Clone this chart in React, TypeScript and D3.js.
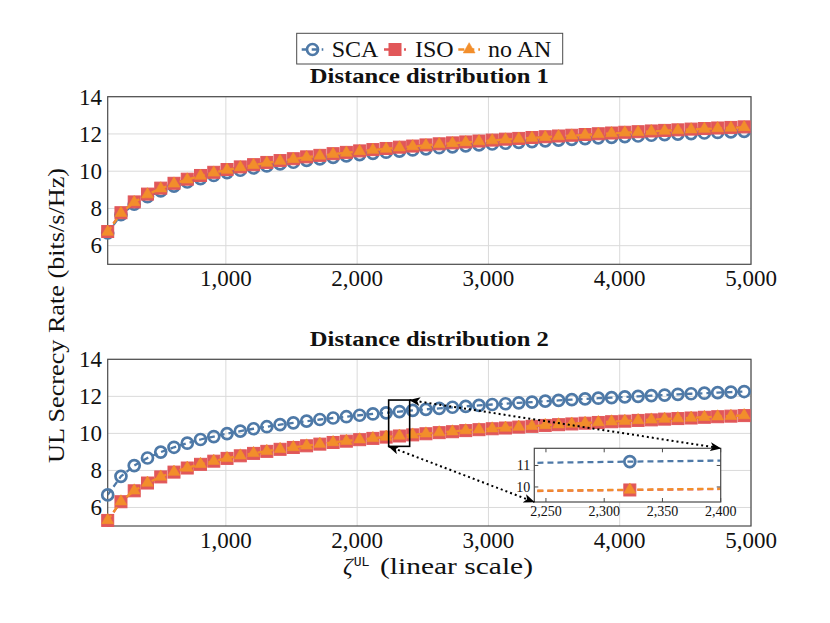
import * as d3 from 'd3'

const W = 830
const H = 623
const SERIF = "'Liberation Serif', 'Times New Roman', serif"
const MONO = "'DejaVu Sans Mono', 'Liberation Mono', monospace"

const BLUE = '#4E79A7'
const RED = '#E15759'
const ORANGE = '#F28E2B'
const GRID = '#dadada'
const FRAME = '#4a4a4a'

// ── data ────────────────────────────────────────────────────────────
const X_VALUES = [
  100, 201, 302, 403, 504, 605, 706, 807, 908, 1009, 1110, 1211, 1312, 1413, 1514, 1615, 1716,
  1817, 1918, 2019, 2120, 2221, 2322, 2423, 2524, 2625, 2726, 2827, 2928, 3029, 3130, 3231, 3332,
  3433, 3534, 3635, 3736, 3837, 3938, 4039, 4140, 4241, 4342, 4443, 4544, 4645, 4746, 4847, 4948,
]

const SCA_D1 = [
  6.68, 7.66, 8.23, 8.63, 8.94, 9.2, 9.42, 9.6, 9.77, 9.92, 10.05, 10.17, 10.28, 10.39, 10.48,
  10.58, 10.66, 10.74, 10.82, 10.89, 10.96, 11.02, 11.08, 11.14, 11.2, 11.26, 11.31, 11.36, 11.41,
  11.46, 11.5, 11.55, 11.59, 11.63, 11.67, 11.71, 11.75, 11.79, 11.82, 11.86, 11.89, 11.93, 11.96,
  11.99, 12.02, 12.05, 12.08, 12.11, 12.14,
]
const ISO_D1 = [
  6.76, 7.77, 8.35, 8.77, 9.09, 9.35, 9.57, 9.77, 9.94, 10.09, 10.23, 10.35, 10.47, 10.57, 10.67,
  10.77, 10.85, 10.94, 11.01, 11.09, 11.16, 11.22, 11.29, 11.35, 11.41, 11.47, 11.52, 11.57, 11.62,
  11.67, 11.72, 11.76, 11.81, 11.85, 11.89, 11.93, 11.97, 12.01, 12.05, 12.09, 12.12, 12.16, 12.19,
  12.22, 12.26, 12.29, 12.32, 12.35, 12.38,
]
const NOAN_D1 = [
  6.74, 7.75, 8.33, 8.75, 9.07, 9.33, 9.55, 9.75, 9.92, 10.07, 10.21, 10.33, 10.45, 10.55, 10.65,
  10.75, 10.83, 10.92, 10.99, 11.07, 11.14, 11.2, 11.27, 11.33, 11.39, 11.45, 11.5, 11.55, 11.6,
  11.65, 11.7, 11.74, 11.79, 11.83, 11.87, 11.91, 11.95, 11.99, 12.03, 12.07, 12.1, 12.14, 12.17,
  12.2, 12.24, 12.27, 12.3, 12.33, 12.36,
]

const SCA_D2 = [
  6.68, 7.68, 8.26, 8.67, 8.99, 9.25, 9.47, 9.67, 9.83, 9.99, 10.12, 10.25, 10.36, 10.47, 10.57,
  10.66, 10.75, 10.83, 10.9, 10.98, 11.05, 11.11, 11.18, 11.24, 11.3, 11.35, 11.41, 11.46, 11.51,
  11.56, 11.6, 11.65, 11.69, 11.74, 11.78, 11.82, 11.86, 11.9, 11.93, 11.97, 12.0, 12.04, 12.07,
  12.11, 12.14, 12.17, 12.2, 12.23, 12.26,
]
const ISO_D2 = [
  5.3, 6.31, 6.9, 7.32, 7.65, 7.91, 8.13, 8.33, 8.5, 8.65, 8.79, 8.92, 9.03, 9.14, 9.24, 9.33, 9.42,
  9.51, 9.58, 9.66, 9.73, 9.8, 9.86, 9.92, 9.98, 10.04, 10.09, 10.15, 10.2, 10.25, 10.29, 10.34,
  10.38, 10.43, 10.47, 10.51, 10.55, 10.59, 10.63, 10.66, 10.7, 10.73, 10.77, 10.8, 10.83, 10.87,
  10.9, 10.93, 10.96,
]
const NOAN_D2 = [
  5.31, 6.32, 6.91, 7.33, 7.66, 7.92, 8.14, 8.34, 8.51, 8.66, 8.8, 8.93, 9.04, 9.15, 9.25, 9.34,
  9.43, 9.52, 9.59, 9.67, 9.74, 9.81, 9.87, 9.93, 9.99, 10.05, 10.1, 10.16, 10.21, 10.26, 10.3,
  10.35, 10.39, 10.44, 10.48, 10.52, 10.56, 10.6, 10.64, 10.67, 10.71, 10.74, 10.78, 10.81, 10.84,
  10.88, 10.91, 10.94, 10.97,
]

const X_DOMAIN = [100, 5000]
const Y_DOMAIN = [5, 14]
const X_TICKS = [1000, 2000, 3000, 4000, 5000]
const Y_TICKS = [6, 8, 10, 12, 14]
const TITLES = ['Distance distribution 1', 'Distance distribution 2']
const LEGEND_LABELS = ['SCA', 'ISO', 'no AN']

const ZOOM_X = [2240, 2400]
const ZOOM_Y = [9.3, 11.8]
const INSET_X_TICKS = [2250, 2300, 2350, 2400]
const INSET_Y_TICKS = [10, 11]

// ── layout ──────────────────────────────────────────────────────────
const PLOT_LEFT = 107.7
const PLOT_RIGHT = 751
const PANELS = [
  { top: 96.7, bottom: 264.3 },
  { top: 359.3, bottom: 526 },
]
const INSET = { left: 534.3, right: 720.7, top: 448.3, bottom: 502 }

type Kind = 'circle' | 'square' | 'triangle'
interface Series {
  label: string
  color: string
  kind: Kind
  values: number[]
}

const PANEL_SERIES: Series[][] = [
  [
    { label: LEGEND_LABELS[0], color: BLUE, kind: 'circle', values: SCA_D1 },
    { label: LEGEND_LABELS[1], color: RED, kind: 'square', values: ISO_D1 },
    { label: LEGEND_LABELS[2], color: ORANGE, kind: 'triangle', values: NOAN_D1 },
  ],
  [
    { label: LEGEND_LABELS[0], color: BLUE, kind: 'circle', values: SCA_D2 },
    { label: LEGEND_LABELS[1], color: RED, kind: 'square', values: ISO_D2 },
    { label: LEGEND_LABELS[2], color: ORANGE, kind: 'triangle', values: NOAN_D2 },
  ],
]

function Mark({ kind, x, y }: { kind: Kind; x: number; y: number }) {
  if (kind === 'circle') {
    return <circle cx={x} cy={y} r={5.5} fill="none" stroke={BLUE} strokeWidth={2.7} />
  }
  if (kind === 'square') {
    return <rect x={x - 6} y={y - 6} width={12} height={12} fill={RED} stroke={RED} strokeWidth={1} />
  }
  return (
    <path
      d={`M${x},${y - 6.8}L${x + 5.9},${y + 3.4}L${x - 5.9},${y + 3.4}Z`}
      fill={ORANGE}
      stroke={ORANGE}
      strokeWidth={0.6}
    />
  )
}

function SeriesDraw({
  s,
  x,
  y,
  clipId,
  markFilter,
}: {
  s: Series
  x: d3.ScaleLinear<number, number>
  y: d3.ScaleLinear<number, number>
  clipId: string
  markFilter?: (v: number) => boolean
}) {
  const line = d3
    .line<number>()
    .x((_, i) => x(X_VALUES[i]))
    .y((d) => y(d))
  return (
    <g>
      <path
        d={line(s.values) ?? ''}
        fill="none"
        stroke={s.color}
        strokeWidth={2.3}
        strokeDasharray="6 4"
        clipPath={`url(#${clipId})`}
      />
      {s.values.map((v, i) =>
        markFilter && !markFilter(X_VALUES[i]) ? null : (
          <Mark key={i} kind={s.kind} x={x(X_VALUES[i])} y={y(v)} />
        )
      )}
    </g>
  )
}

function Panel({ idx }: { idx: number }) {
  const { top, bottom } = PANELS[idx]
  const x = d3.scaleLinear().domain(X_DOMAIN).range([PLOT_LEFT, PLOT_RIGHT])
  const y = d3.scaleLinear().domain(Y_DOMAIN).range([bottom, top])
  const fmt = d3.format(',')
  const clipId = `clip-${idx}`
  return (
    <g>
      <defs>
        <clipPath id={clipId}>
          <rect x={PLOT_LEFT} y={top} width={PLOT_RIGHT - PLOT_LEFT} height={bottom - top} />
        </clipPath>
      </defs>
      {X_TICKS.map((t) => (
        <line key={'gx' + t} x1={x(t)} x2={x(t)} y1={top} y2={bottom} stroke={GRID} strokeWidth={1} />
      ))}
      {Y_TICKS.map((t) => (
        <line key={'gy' + t} x1={PLOT_LEFT} x2={PLOT_RIGHT} y1={y(t)} y2={y(t)} stroke={GRID} strokeWidth={1} />
      ))}
      <rect
        x={PLOT_LEFT}
        y={top}
        width={PLOT_RIGHT - PLOT_LEFT}
        height={bottom - top}
        fill="none"
        stroke={FRAME}
        strokeWidth={1.2}
      />
      {X_TICKS.map((t) => (
        <text
          key={'tx' + t}
          x={x(t)}
          y={bottom + 22}
          textAnchor="middle"
          fontFamily={SERIF}
          fontSize={23}
          fill="#111"
        >
          {fmt(t)}
        </text>
      ))}
      {Y_TICKS.map((t) => (
        <text
          key={'ty' + t}
          x={102}
          y={y(t) + 7.8}
          textAnchor="end"
          fontFamily={SERIF}
          fontSize={23}
          fill="#111"
        >
          {t}
        </text>
      ))}
      <text
        x={(PLOT_LEFT + PLOT_RIGHT) / 2}
        y={top - 13.4}
        textAnchor="middle"
        fontFamily={SERIF}
        fontWeight="bold"
        fontSize={20}
        textLength={239}
        lengthAdjust="spacingAndGlyphs"
        fill="#111"
      >
        {TITLES[idx]}
      </text>
      {PANEL_SERIES[idx].map((s) => (
        <SeriesDraw key={s.label} s={s} x={x} y={y} clipId={clipId} />
      ))}
      {idx === 1 && <Zoom x={x} y={y} />}
    </g>
  )
}

function Zoom({ x, y }: { x: d3.ScaleLinear<number, number>; y: d3.ScaleLinear<number, number> }) {
  const ix = d3.scaleLinear().domain(ZOOM_X).range([INSET.left, INSET.right])
  const iy = d3.scaleLinear().domain(ZOOM_Y).range([INSET.bottom, INSET.top])
  const fmt = d3.format(',')
  const rx0 = x(ZOOM_X[0])
  const rx1 = x(ZOOM_X[1])
  const ry0 = y(ZOOM_Y[1])
  const ry1 = y(ZOOM_Y[0])
  return (
    <g>
      <defs>
        <clipPath id="clip-inset">
          <rect x={INSET.left} y={INSET.top} width={INSET.right - INSET.left} height={INSET.bottom - INSET.top} />
        </clipPath>
        <marker
          id="arrowhead"
          viewBox="0 0 10 8"
          refX={9.5}
          refY={4}
          markerWidth={11}
          markerHeight={9}
          markerUnits="userSpaceOnUse"
          orient="auto-start-reverse"
        >
          <path d="M0,0L10,4L0,8L2.5,4Z" fill="#000" />
        </marker>
      </defs>
      <rect x={rx0} y={ry0} width={rx1 - rx0} height={ry1 - ry0} fill="none" stroke="#000" strokeWidth={1.6} />
      <rect
        x={INSET.left}
        y={INSET.top}
        width={INSET.right - INSET.left}
        height={INSET.bottom - INSET.top}
        fill="#fff"
      />
      {PANEL_SERIES[1].map((s) => (
        <SeriesDraw
          key={s.label}
          s={s}
          x={ix}
          y={iy}
          clipId="clip-inset"
          markFilter={(v) => v >= ZOOM_X[0] && v <= ZOOM_X[1]}
        />
      ))}
      <rect
        x={INSET.left}
        y={INSET.top}
        width={INSET.right - INSET.left}
        height={INSET.bottom - INSET.top}
        fill="none"
        stroke={FRAME}
        strokeWidth={1.2}
      />
      {INSET_X_TICKS.map((t) => (
        <g key={'ix' + t}>
          <line x1={ix(t)} x2={ix(t)} y1={INSET.bottom} y2={INSET.bottom - 4} stroke={FRAME} />
          <line x1={ix(t)} x2={ix(t)} y1={INSET.top} y2={INSET.top + 4} stroke={FRAME} />
          <text x={ix(t)} y={INSET.bottom + 14} textAnchor="middle" fontFamily={SERIF} fontSize={14} fill="#111">
            {fmt(t)}
          </text>
        </g>
      ))}
      {INSET_Y_TICKS.map((t) => (
        <g key={'iy' + t}>
          <line x1={INSET.left} x2={INSET.left + 4} y1={iy(t)} y2={iy(t)} stroke={FRAME} />
          <line x1={INSET.right} x2={INSET.right - 4} y1={iy(t)} y2={iy(t)} stroke={FRAME} />
          <text x={INSET.left - 4} y={iy(t) + 4.8} textAnchor="end" fontFamily={SERIF} fontSize={14} fill="#111">
            {t}
          </text>
        </g>
      ))}
      <line
        x1={rx1}
        y1={ry0}
        x2={INSET.right}
        y2={INSET.top}
        stroke="#000"
        strokeWidth={2}
        strokeDasharray="2 3"
        markerStart="url(#arrowhead)"
        markerEnd="url(#arrowhead)"
      />
      <line
        x1={rx0}
        y1={ry1}
        x2={INSET.left}
        y2={INSET.bottom}
        stroke="#000"
        strokeWidth={2}
        strokeDasharray="2 3"
        markerStart="url(#arrowhead)"
        markerEnd="url(#arrowhead)"
      />
    </g>
  )
}

function Legend() {
  const items = [
    { kind: 'circle' as Kind, color: BLUE, x0: 301.7, x1: 323.3, tx: 331.7 },
    { kind: 'square' as Kind, color: RED, x0: 384, x1: 406, tx: 415 },
    { kind: 'triangle' as Kind, color: ORANGE, x0: 458.3, x1: 480, tx: 488 },
  ]
  const cy = 49.5
  return (
    <g>
      <rect x={296.7} y={33.3} width={266} height={30.7} fill="#fff" stroke={FRAME} strokeWidth={1} />
      {items.map((it, i) => (
        <g key={i}>
          <line x1={it.x0} x2={it.x1} y1={cy} y2={cy} stroke={it.color} strokeWidth={2.3} strokeDasharray="6 4" />
          <Mark kind={it.kind} x={(it.x0 + it.x1) / 2} y={cy} />
          <text x={it.tx} y={56.7} fontFamily={SERIF} fontSize={24} fill="#111">
            {LEGEND_LABELS[i]}
          </text>
        </g>
      ))}
    </g>
  )
}

export default function App() {
  return (
    <svg
      width={W}
      height={H}
      viewBox={`0 0 ${W} ${H}`}
      style={{ position: 'absolute', left: 0, top: 0, background: '#fff' }}
    >
      <rect width={W} height={H} fill="#fff" />
      <Panel idx={0} />
      <Panel idx={1} />
      <Legend />
      <text
        transform="translate(64,315.5) rotate(-90)"
        textAnchor="middle"
        fontFamily={SERIF}
        fontSize={23}
        textLength={295}
        lengthAdjust="spacingAndGlyphs"
        fill="#111"
      >
        UL Secrecy Rate (bits/s/Hz)
      </text>
      <text x={343} y={574} fontFamily={SERIF} fontSize={24} fill="#111">
        <tspan fontStyle="italic">ζ</tspan>
        <tspan fontFamily={MONO} fontSize={13} dy={-8.5} dx={1}>
          UL
        </tspan>
        <tspan dy={8.5} x={380} textLength={153} lengthAdjust="spacingAndGlyphs">
          (linear scale)
        </tspan>
      </text>
    </svg>
  )
}
